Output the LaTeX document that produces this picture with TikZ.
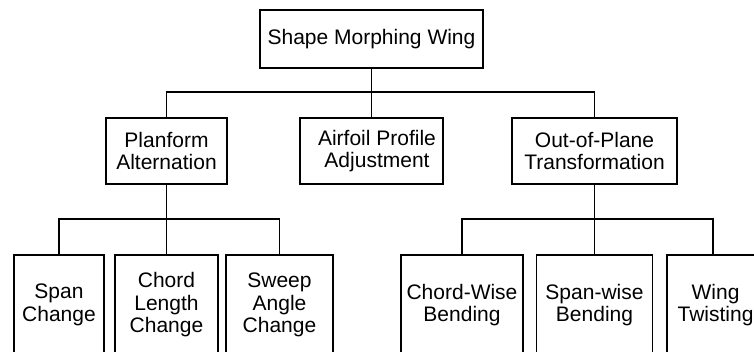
\documentclass[tikz,border=0pt]{standalone}
\usepackage{fontspec}
\setmainfont{Liberation Sans}
\begin{document}
\begin{tikzpicture}[x=1pt,y=-1pt,
  box/.style={draw,line width=1.1pt,rectangle,inner sep=0pt,align=center,
    font=\fontsize{21}{22.5}\selectfont},
  link/.style={line width=1.1pt}]
\useasboundingbox (0,0) rectangle (754,351);
\clip (0,0) rectangle (754,351);

% root
\node[box,minimum width=223pt,minimum height=58pt] (root) at (371.5,39) {Shape Morphing Wing};

% second level
\node[box,minimum width=121pt,minimum height=66pt] (plan) at (166.5,151) {Planform\\Alternation};
\node[box,minimum width=143pt,minimum height=66pt] (airf) at (371.5,151) {\hspace*{11pt}Airfoil Profile\\\hspace*{11pt}Adjustment};
\node[box,minimum width=165pt,minimum height=66pt] (oop) at (594.5,151) {Out-of-Plane\\Transformation};

% third level (boxes run past the lower edge)
\node[box,minimum width=90pt,minimum height=100pt] (span) at (59,305) {Span\\Change};
\node[box,minimum width=103pt,minimum height=100pt] (chord) at (166.5,305) {Chord\\Length\\Change};
\node[box,minimum width=107pt,minimum height=100pt] (sweep) at (279.5,305) {Sweep\\Angle\\Change};
\node[box,minimum width=122pt,minimum height=100pt] (cwb) at (462,305) {Chord-Wise\\Bending};
\node[box,minimum width=116pt,minimum height=100pt] (swb) at (594.5,305) {Span-wise\\Bending};
\node[box,minimum width=92pt,minimum height=100pt] (twist) at (713,305) {\hspace*{5pt}Wing\\\hspace*{5pt}Twisting};

% bus lines
\coordinate (busA) at (371.5,92);
\coordinate (busB) at (166.5,219);
\coordinate (busC) at (594.5,219);

\draw[link] (root.south) -- (busA);
\draw[link] (plan.north) -- (plan.north |- busA) -- (oop.north |- busA) -- (oop.north);
\draw[link] (airf.north) -- (airf.north |- busA);

\draw[link] (plan.south) -- (busB);
\draw[link] (span.north) -- (span.north |- busB) -- (sweep.north |- busB) -- (sweep.north);
\draw[link] (chord.north) -- (chord.north |- busB);

\draw[link] (oop.south) -- (busC);
\draw[link] (cwb.north) -- (cwb.north |- busC) -- (twist.north |- busC) -- (twist.north);
\draw[link] (swb.north) -- (swb.north |- busC);
\end{tikzpicture}
\end{document}
